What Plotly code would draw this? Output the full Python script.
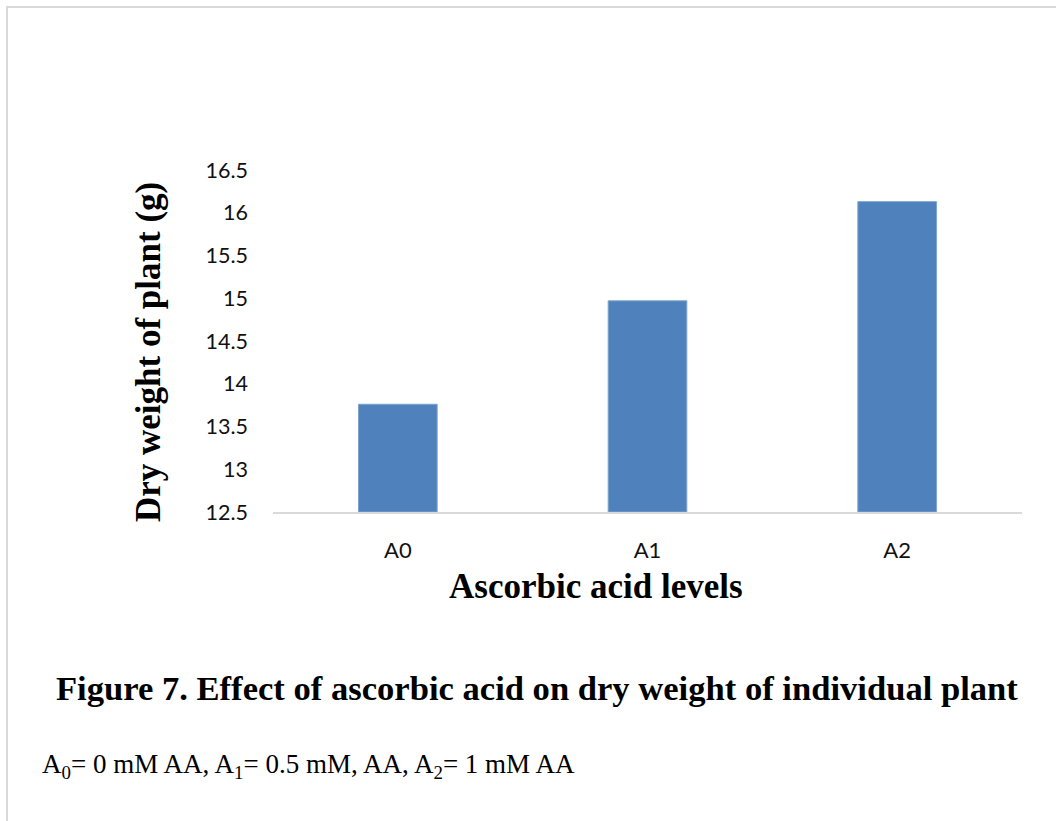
import plotly.graph_objects as go

categories = ["A0", "A1", "A2"]
dry_weight = [13.76, 14.97, 16.13]
y_base = 12.5
y_ticks = [12.5, 13, 13.5, 14, 14.5, 15, 15.5, 16, 16.5]
y_tick_labels = ["12.5", "13", "13.5", "14", "14.5", "15", "15.5", "16", "16.5"]

W, H = 1056, 821
L, R, T, B = 273, 34, 170, 309
PW, PH = W - L - R, H - T - B


def px(x):
    return (x - L) / PW


def py(y):
    return (H - B - y) / PH


fig = go.Figure(
    go.Bar(
        x=categories,
        y=[v - y_base for v in dry_weight],
        base=y_base,
        width=0.315,
        marker=dict(color="#4f81bd", line=dict(color="#7ea3d0", width=1)),
    )
)

serif = "Liberation Serif"

fig.update_layout(
    width=W,
    height=H,
    margin=dict(l=L, r=R, t=T, b=B),
    paper_bgcolor="white",
    plot_bgcolor="white",
    showlegend=False,
    xaxis=dict(
        range=[-0.5, 2.5],
        showline=True,
        linecolor="#d9d9d9",
        linewidth=2,
        ticks="",
        showgrid=False,
        ticklabelstandoff=18,
        tickfont=dict(family="Lato", size=22, color="#111111"),
    ),
    yaxis=dict(
        range=[12.5, 16.5],
        tickvals=y_ticks,
        ticktext=y_tick_labels,
        showline=False,
        showgrid=False,
        zeroline=False,
        ticks="",
        ticklabelstandoff=24,
        tickfont=dict(family="Lato", size=21.5, color="#111111"),
    ),
    annotations=[
        dict(
            text="<b>Dry weight of plant (g)</b>",
            xref="paper", yref="paper",
            x=px(148), y=py(352),
            xanchor="center", yanchor="middle",
            textangle=-90,
            showarrow=False,
            font=dict(family=serif, size=35, color="black"),
        ),
        dict(
            text="<b>Ascorbic acid levels</b>",
            xref="paper", yref="paper",
            x=px(596), y=py(586),
            xanchor="center", yanchor="middle",
            showarrow=False,
            font=dict(family=serif, size=35, color="black"),
        ),
        dict(
            text="<b>Figure 7. Effect of ascorbic acid on dry weight of individual plant</b>",
            xref="paper", yref="paper",
            x=px(537), y=py(688),
            xanchor="center", yanchor="middle",
            showarrow=False,
            font=dict(family=serif, size=34.6, color="black"),
        ),
        dict(
            text="A<sub>0</sub>= 0 mM AA, A<sub>1</sub>= 0.5 mM, AA, A<sub>2</sub>= 1 mM AA",
            xref="paper", yref="paper",
            x=px(40), y=py(766),
            xanchor="left", yanchor="middle",
            showarrow=False,
            font=dict(family=serif, size=27, color="black"),
        ),
    ],
    shapes=[
        dict(type="line", xref="paper", yref="paper",
             x0=px(6), x1=px(W), y0=py(7), y1=py(7),
             line=dict(color="#d9d9d9", width=2)),
        dict(type="line", xref="paper", yref="paper",
             x0=px(7), x1=px(7), y0=py(6), y1=py(H),
             line=dict(color="#d9d9d9", width=2)),
    ],
)

fig.write_html("out.html")
